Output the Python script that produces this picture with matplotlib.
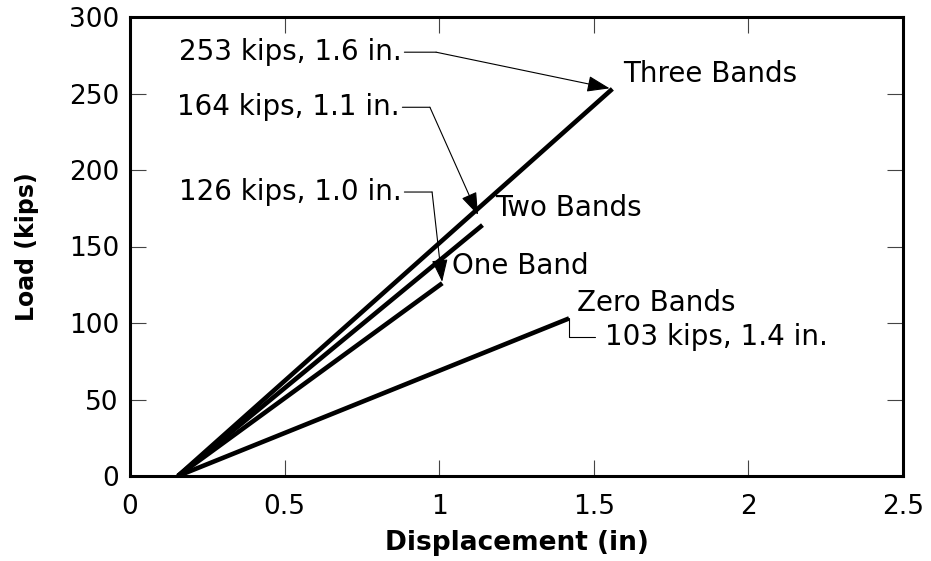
import matplotlib
matplotlib.use('Agg')
import matplotlib.pyplot as plt

# load-displacement data (displacement in in., load in kips)
origin_disp = 0.155
zero_band = [1.42, 103]
one_band = [1.01, 126]
two_bands = [1.14, 164]
three_bands = [1.56, 253]

series_names = ['Zero Bands', 'One Band', 'Two Bands', 'Three Bands']
series_ends = [zero_band, one_band, two_bands, three_bands]

callouts = ['103 kips, 1.4 in.', '126 kips, 1.0 in.', '164 kips, 1.1 in.', '253 kips, 1.6 in.']

x_ticks = [0, 0.5, 1, 1.5, 2, 2.5]
x_tick_labels = ['0', '0.5', '1', '1.5', '2', '2.5']
y_ticks = [0, 50, 100, 150, 200, 250, 300]

plt.rcParams['font.family'] = ['DejaVu Sans']

fig = plt.figure(figsize=(9.31, 5.61), dpi=100)
ax = fig.add_axes([130 / 931, 85 / 561, 773 / 931, 459 / 561])

# one straight line per specimen, from the start displacement to failure
for name, end in zip(series_names, series_ends):
    ax.plot([origin_disp, end[0]], [0, end[1]], color='black', lw=3.3,
            solid_capstyle='butt')

ax.set_xlim(0, 2.5)
ax.set_ylim(0, 300)
ax.set_xticks(x_ticks)
ax.set_xticklabels(x_tick_labels)
ax.set_yticks(y_ticks)

for s in ax.spines.values():
    s.set_linewidth(2.2)
ax.tick_params(direction='in', length=11.5, width=0.8, color='#444444',
               top=True, right=True, labelsize=19)
ax.tick_params(axis='x', pad=13)
ax.tick_params(axis='y', pad=8)

ax.set_xlabel('Displacement (in)', fontsize=19, fontweight='bold')
ax.set_ylabel('Load (kips)', fontsize=17, fontweight='bold')
ax.xaxis.set_label_coords(0.5, -0.118)
ax.yaxis.set_label_coords(-0.118, 0.5)

fs = 20

# series names next to the line ends
ax.text(1.446, 113, 'Zero Bands', fontsize=fs, va='center', ha='left')
ax.text(1.04, 137, 'One Band', fontsize=fs, va='center', ha='left')
ax.text(1.18, 175, 'Two Bands', fontsize=fs, va='center', ha='left')
ax.text(1.594, 263, 'Three Bands', fontsize=fs, va='center', ha='left')

head = '-|>,head_length=1.4,head_width=0.5'


def callout(label, text_pos, bend, target, shrink):
    # label with a short horizontal leader, then a thin arrow to the point
    ax.annotate(label, xy=bend, xytext=text_pos, fontsize=fs,
                ha='left', va='center',
                arrowprops=dict(arrowstyle='-', lw=0.8, color='black',
                                relpos=(1, 0.5), shrinkA=0, shrinkB=0))
    ax.annotate('', xy=target, xytext=bend,
                arrowprops=dict(arrowstyle=head, lw=0.8, color='black',
                                mutation_scale=10, shrinkA=0, shrinkB=shrink))


callout(callouts[3], (0.158, 277), (0.99, 277), three_bands, 2)
callout(callouts[2], (0.152, 241), (0.97, 241), two_bands, 8)
callout(callouts[1], (0.158, 185.6), (0.977, 185.6), one_band, 1)

# zero bands: leader drops down from the end point, then runs right to the text
ax.annotate(callouts[0], xy=zero_band, xytext=(1.536, 90.8), fontsize=fs,
            ha='left', va='center',
            arrowprops=dict(arrowstyle='-', lw=0.8, color='black',
                            relpos=(0, 0.5), shrinkA=5, shrinkB=0,
                            connectionstyle='angle,angleA=0,angleB=90,rad=0'))

fig.savefig('out.png', dpi=100)
